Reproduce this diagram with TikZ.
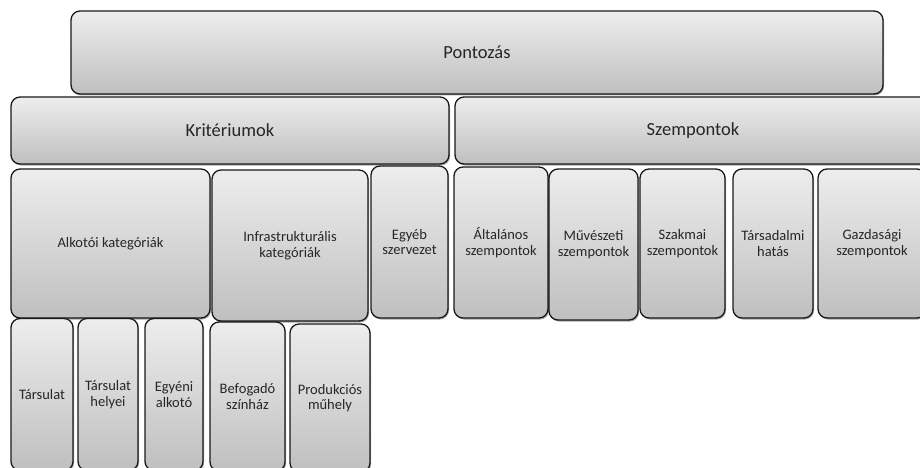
\documentclass[tikz,border=0pt]{standalone}
\usepackage{fontspec}
\setmainfont{Carlito}
\usetikzlibrary{shadows}
\tikzset{
  blk/.style={draw=black!90,line width=1.3pt,rounded corners=9pt,
    top color=black!7,bottom color=black!25,
    drop shadow={shadow xshift=1pt,shadow yshift=-1.5pt,opacity=.35,fill=black},
    align=center,inner sep=2pt,text=black!85,
    font=\fontsize{14.5}{15.5}\selectfont},
  bigblk/.style={blk,font=\fontsize{18.5}{22}\selectfont},
}

\begin{document}
\begin{tikzpicture}[x=1pt,y=-1pt]
  \useasboundingbox (0,0) rectangle (920,468);
  \clip (0,0) rectangle (920,468);
  % upper levels
  \node[bigblk,minimum width=812pt,minimum height=83pt] (pont) at (477,52.5) {Pontozás};
  \node[bigblk,minimum width=438pt,minimum height=67pt] (krit) at (230,130.5) {Kritériumok};
  \node[bigblk,minimum width=476pt,minimum height=67pt] (szemp) at (693,130.5) {Szempontok};
  % criteria
  \node[blk,minimum width=199pt,minimum height=149pt] (alkot) at (110.5,243.5) {Alkotói kategóriák};
  \node[blk,minimum width=156pt,minimum height=151pt] (infra) at (290,245.5) {Infrastrukturális\\kategóriák};
  \node[blk,minimum width=77pt,minimum height=152pt] (egyeb) at (409.5,242) {Egyéb\\szervezet};
  % aspects
  \node[blk,minimum width=94pt,minimum height=151pt] (altal) at (501,242.5) {Általános\\szempontok};
  \node[blk,minimum width=89pt,minimum height=151pt] (muv) at (593.5,244.5) {Művészeti\\szempontok};
  \node[blk,minimum width=85pt,minimum height=149pt] (szak) at (682.5,243.5) {Szakmai\\szempontok};
  \node[blk,minimum width=80pt,minimum height=149pt] (tars) at (773,243.5) {Társadalmi\\hatás};
  \node[blk,minimum width=108pt,minimum height=149pt] (gazd) at (872,243.5) {Gazdasági\\szempontok};
  % lowest level
  \node[blk,minimum width=62pt,minimum height=152pt] (tarsul) at (42,394.5) {Társulat};
  \node[blk,minimum width=60pt,minimum height=152pt] (helyei) at (108,394.5) {Társulat\\helyei};
  \node[blk,minimum width=58pt,minimum height=152pt] (egyeni) at (174,394.5) {Egyéni\\alkotó};
  \node[blk,minimum width=75pt,minimum height=149pt] (befog) at (247.5,396.5) {Befogadó\\színház};
  \node[blk,minimum width=80pt,minimum height=148pt] (prod) at (330,398) {Produkciós\\műhely};
\end{tikzpicture}
\end{document}
